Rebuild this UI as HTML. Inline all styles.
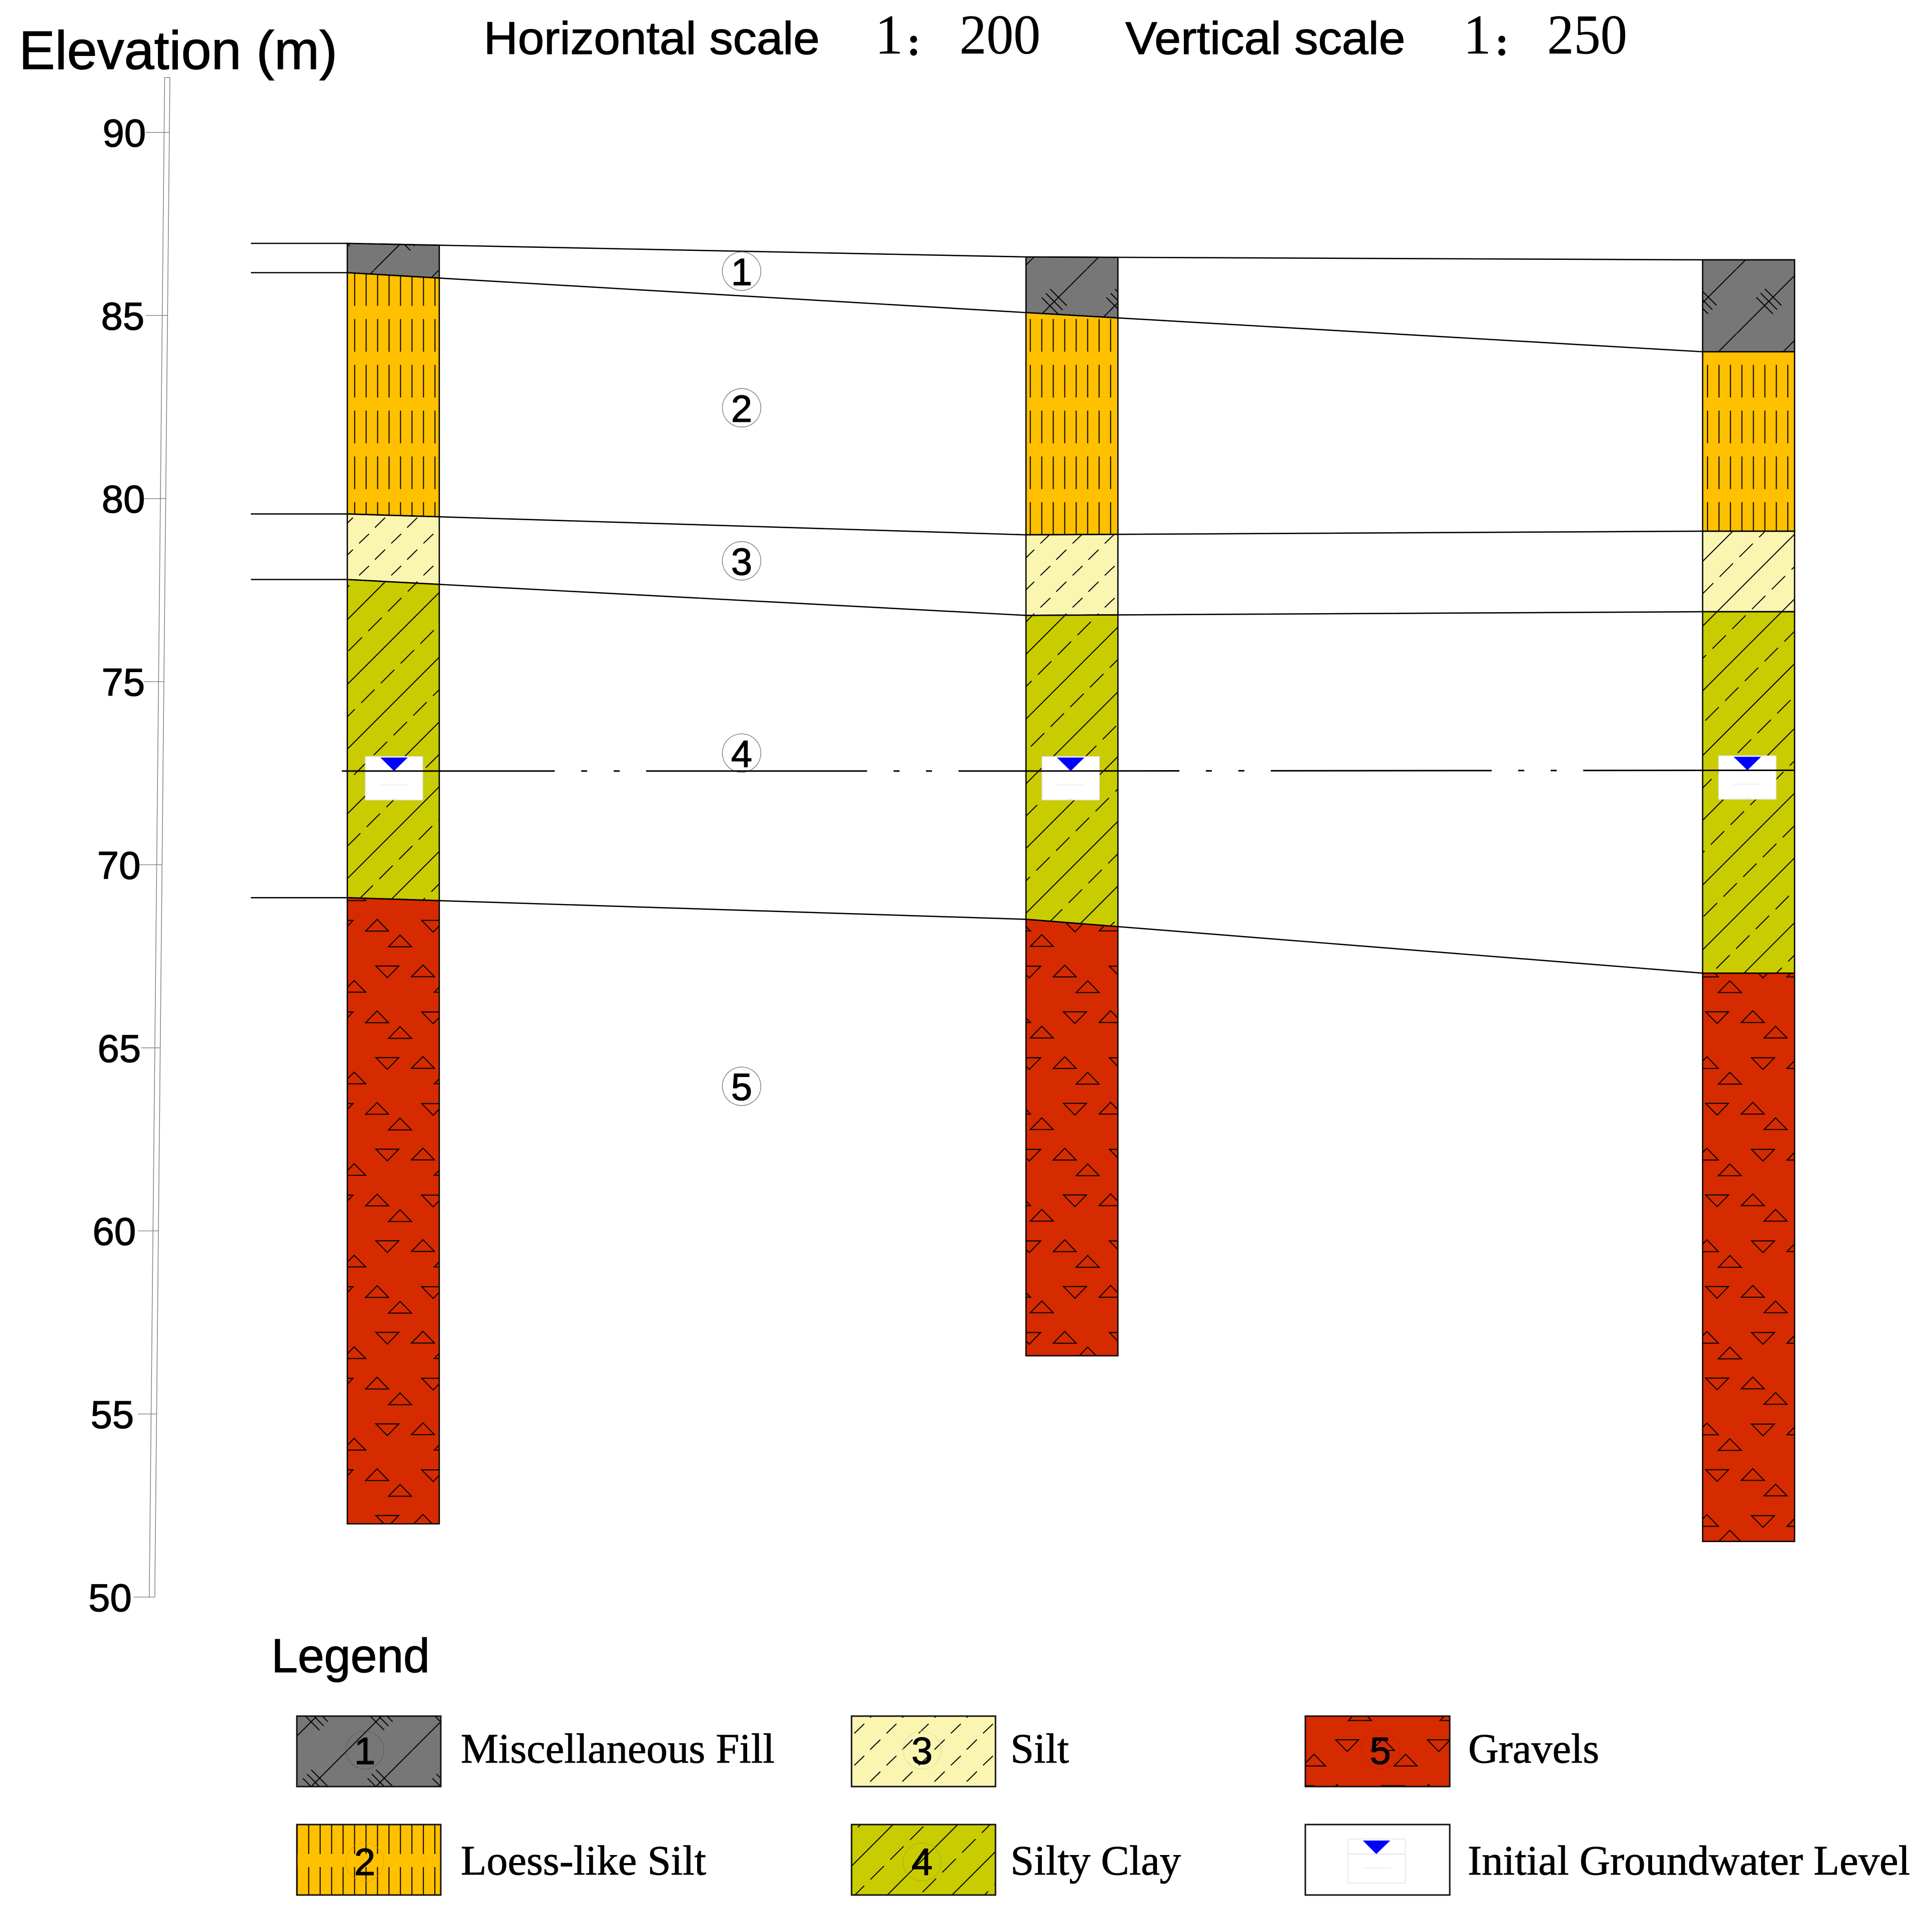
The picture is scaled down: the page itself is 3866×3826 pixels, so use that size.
<!DOCTYPE html>
<html lang="en">
<head>
<meta charset="utf-8">
<title>Borehole section</title>
<style>
html,body{margin:0;padding:0;background:#fff;}
svg{display:block;}
.sans{font-family:"Liberation Sans",sans-serif;fill:#000;stroke:#000;stroke-width:1.3px;}
.serif{font-family:"Liberation Serif","Noto Serif CJK SC",serif;fill:#000;stroke:#000;stroke-width:0.9px;}
.thin{stroke-width:0.4px;}
</style>
</head>
<body>
<svg id="chart" xmlns="http://www.w3.org/2000/svg" width="3866" height="3826" viewBox="0 0 3866 3826">
<defs id="defs"></defs>
<rect width="3866" height="3826" fill="#fff"/>

<text class="sans" x="38" y="138" font-size="109" textLength="637" lengthAdjust="spacingAndGlyphs">Elevation (m)</text>
<text class="sans" x="968" y="108" font-size="92" textLength="672" lengthAdjust="spacingAndGlyphs">Horizontal scale</text>
<text class="serif thin" x="1751" y="107" font-size="112">1</text>
<text class="serif" x="1828.5" y="110" font-size="80" font-weight="bold" text-anchor="middle">:</text>
<text class="serif thin" x="1920" y="107" font-size="112" textLength="162" lengthAdjust="spacingAndGlyphs">200</text>
<text class="sans" x="2252" y="108" font-size="92" textLength="560" lengthAdjust="spacingAndGlyphs">Vertical scale</text>
<text class="serif thin" x="2928" y="107" font-size="112">1</text>
<text class="serif" x="3005.5" y="110" font-size="80" font-weight="bold" text-anchor="middle">:</text>
<text class="serif thin" x="3096" y="107" font-size="112" textLength="160" lengthAdjust="spacingAndGlyphs">250</text>

<g id="plot"></g>

<g>
<text class="sans" x="543" y="3346" font-size="96" textLength="317" lengthAdjust="spacingAndGlyphs">Legend</text>

<g>
<rect x="594" y="3434" width="288" height="141" fill="url(#legFill)" stroke="#111" stroke-width="3"/>
<circle cx="730" cy="3502" r="38" fill="none" stroke="#555" stroke-width="1"/>
<text class="sans" x="730" y="3530" font-size="76" text-anchor="middle">1</text>
<text class="serif" x="922" y="3527" font-size="84" textLength="628" lengthAdjust="spacingAndGlyphs">Miscellaneous Fill</text>
</g>

<g>
<rect x="594" y="3651" width="288" height="141" fill="url(#legLoess)" stroke="#111" stroke-width="3"/>
<circle cx="730" cy="3726" r="38" fill="none" stroke="#e0a000" stroke-width="1"/>
<text class="sans" x="730" y="3752" font-size="76" text-anchor="middle">2</text>
<text class="serif" x="922" y="3751" font-size="84" textLength="491" lengthAdjust="spacingAndGlyphs">Loess-like Silt</text>
</g>

<g>
<rect x="1704" y="3434" width="288" height="141" fill="url(#legSilt)" stroke="#111" stroke-width="3"/>
<circle cx="1845" cy="3502" r="38" fill="none" stroke="#d8d4a0" stroke-width="1"/>
<text class="sans" x="1845" y="3530" font-size="76" text-anchor="middle">3</text>
<text class="serif" x="2022" y="3527" font-size="84" textLength="117" lengthAdjust="spacingAndGlyphs">Silt</text>
</g>

<g>
<rect x="1704" y="3651" width="288" height="141" fill="url(#legClay)" stroke="#111" stroke-width="3"/>
<circle cx="1845" cy="3726" r="38" fill="none" stroke="#a8aa00" stroke-width="1"/>
<text class="sans" x="1845" y="3752" font-size="76" text-anchor="middle">4</text>
<text class="serif" x="2022" y="3751" font-size="84" textLength="341" lengthAdjust="spacingAndGlyphs">Silty Clay</text>
</g>

<g>
<rect x="2612" y="3434" width="289" height="141" fill="url(#legGravel)" stroke="#111" stroke-width="3"/>
<circle cx="2762" cy="3502" r="38" fill="none" stroke="#b82400" stroke-width="1"/>
<text class="sans" x="2762" y="3530" font-size="76" text-anchor="middle">5</text>
<text class="serif" x="2938" y="3527" font-size="84" textLength="262" lengthAdjust="spacingAndGlyphs">Gravels</text>
</g>

<g>
<rect x="2612" y="3651" width="289" height="141" fill="#fff" stroke="#111" stroke-width="3"/>
<rect x="2697" y="3680" width="115" height="88" fill="#fff" stroke="#e4e4ec" stroke-width="1.5"/>
<line x1="2697" y1="3710" x2="2812" y2="3710" stroke="#dcdcec" stroke-width="1.5"/>
<line x1="2727" y1="3738" x2="2783" y2="3738" stroke="#e8e8f0" stroke-width="1.5"/>
<polygon points="2727,3683 2782,3683 2754,3710" fill="#0000ff"/>
<text class="serif" x="2937" y="3751" font-size="84" textLength="885" lengthAdjust="spacingAndGlyphs">Initial Groundwater Level</text>
</g>
</g>
</svg>

<script>
// ---- data ----
const tickValues = [90, 85, 80, 75, 70, 65, 60, 55, 50];
const boreholeDistances = [0, 27.16, 54.24];
const boreholeNames = ['borehole-1', 'borehole-2', 'borehole-3'];
const surfaceElevations = [86.97, 86.60, 86.52];
const fillBaseElevations = [86.17, 85.08, 84.01];
const loessBaseElevations = [79.58, 79.01, 79.11];
const siltBaseElevations = [77.79, 76.81, 76.91];
const clayBaseElevations = [69.10, 68.51, 67.04];
const gravelBaseElevations = [52.00, 56.59, 51.52];
const waterElevations = [72.56, 72.56, 72.58];
const layerKeys = ['fill', 'loess', 'silt', 'clay', 'gravel'];
const layerNumbers = ['1', '2', '3', '4', '5'];
const layerLabelElevations = [86.21, 82.48, 78.30, 73.05, 63.95];
const layerLabelDistance = 15.78;
const axisTopElevation = 91.5;
const axisBottomElevation = 50;

// ---- axis functions ----
const yScale = v => 265 + (90 - v) * 73.27;
const xScale = d => 695 + d * 50;
const axisRightX = y => 340 - (y - 155) * 0.00996;
const COLUMN_W = 184;
const EXT_LEFT = 502;
// tick stubs in the drawing start at stepped offsets from the slanted axis
function tickStubLeft(i) {
  return [291.7, 291.7, 287, 287, 278, 282.7, 276, 276, 267.3][i];
}
function tickLabelRight(i) {
  return [289, 286, 287.3, 287, 278.3, 279, 269, 265, 260.7][i];
}

const NS = 'http://www.w3.org/2000/svg';
const svg = document.getElementById('chart');
const defs = document.getElementById('defs');
const plot = document.getElementById('plot');
function mk(tag, attrs, parent) {
  const el = document.createElementNS(NS, tag);
  for (const k in attrs) el.setAttribute(k, attrs[k]);
  (parent || plot).appendChild(el);
  return el;
}

// ---- hatch patterns ----
const COLORS = {fill:'#777777', loess:'#FFC000', silt:'#FAF6B2', clay:'#C9CC00', gravel:'#D62B00'};
const HS = 2;
function pattern(id, ox, oy, rot, w, h, bg, draw) {
  const p = mk('pattern', {id:id, patternUnits:'userSpaceOnUse', x:0, y:0, width:w, height:h,
    patternTransform:'translate(' + ox + ',' + oy + ')' + (rot ? ' rotate(' + rot + ')' : '')}, defs);
  mk('rect', {x:0, y:0, width:w, height:h, fill:bg}, p);
  draw(p);
}
function seg(p, x1, y1, x2, y2) {
  mk('line', {x1:x1, y1:y1, x2:x2, y2:y2, stroke:'#000', 'stroke-width':HS}, p);
}
function fillPat(id, ox, oy) {
  const T = 129.6;
  pattern(id, ox, oy, 0, T, T, COLORS.fill, p => {
    seg(p, -5, T + 5, T + 5, -5);
    [-12, 0, 12].forEach(o => {
      const cx = T / 2 + o * 0.707, cy = T / 2 - o * 0.707, a = 23.5 * 0.707;
      seg(p, cx - a, cy - a, cx + a, cy + a);
    });
  });
}
function loessPat(id, ox, oy) {
  pattern(id, ox - 1.5, oy, 0, 22.95, 91.6, COLORS.loess, p => seg(p, 1.5, 0, 1.5, 65.5));
}
function dashPat(id, ox, oy) {
  pattern(id, ox, oy, 0, 64.4, 64, COLORS.silt, p => {
    seg(p, 0.5, 19.5, 20.4, 0.5);
    seg(p, 32.2, 52, 52.6, 32);
  });
}
function clayPat(id, ox, oy, bg) {
  pattern(id, ox, oy, -45, 55.9, 91.6, bg, p => {
    seg(p, 0, 0, 55.9, 0);
    seg(p, 0, 91.6, 55.9, 91.6);
    seg(p, 0, 45.8, 38, 45.8);
  });
}
function gravelPat(id, ox, oy) {
  const T = 183.25, hw = 23, ht = 23.5;
  const up = (p, cx, base) => mk('polygon', {points:(cx-hw)+','+base+' '+(cx+hw)+','+base+' '+cx+','+(base-ht), fill:'none', stroke:'#000', 'stroke-width':HS}, p);
  const dn = (p, cx, top) => mk('polygon', {points:(cx-hw)+','+top+' '+(cx+hw)+','+top+' '+cx+','+(top+ht), fill:'none', stroke:'#000', 'stroke-width':HS}, p);
  pattern(id, ox, oy, 0, T, T, COLORS.gravel, p => {
    dn(p, 81, 9.3);
    up(p, 152.4, 30.7);
    up(p, 14.7, 61.7);
    up(p, 14.7 + T, 61.7);
    dn(p, 172.8, 101.3);
    dn(p, 172.8 - T, 101.3);
    up(p, 60.6, 122.7);
    up(p, 106.5, 154);
  });
}
// per-borehole hatches
fillPat('fill0', 748.2, 411.2);
fillPat('fill1', 2044.7, 538.7);
fillPat('fill2', 3474.7, 538.2);
loessPat('loess0', 709.7, 638.4);
loessPat('loess1', 2061.7, 638.4);
loessPat('loess2', 3416.8, 638.4);
dashPat('silt0', 718, 1131.8);
dashPat('silt1', 2081.3, 1068);
clayPat('silt2', 3391, 1657.6, COLORS.silt);
clayPat('clay0', 704.6, 1230.4, COLORS.clay);
clayPat('clay1', 2041.3, 1709.6, COLORS.clay);
clayPat('clay2', 3391, 1657.6, COLORS.clay);
gravelPat('gravel0', 694, 1923.75);
gravelPat('gravel1', 2070, 2015.35);
gravelPat('gravel2', 3355, 2015.35);
// legend hatches
fillPat('legFill', 566.2, 3372.2);
loessPat('legLoess', 617.7, 3644.4);
dashPat('legSilt', 1709, 3513);
clayPat('legClay', 1709.5, 3728.5, COLORS.clay);
gravelPat('legGravel', 2614.8, 3472.1);

// ---- y axis ----
const axisG = mk('g', {});


const axTop = yScale(axisTopElevation), axBot = yScale(axisBottomElevation);
const axisLine = mk('polyline', {
  points: [[axisRightX(axBot) - 11, axBot], [axisRightX(axTop) - 10.5, axTop], [axisRightX(axTop), axTop], [axisRightX(axBot), axBot]].map(p => p.join(',')).join(' '),
  fill:'none', stroke:'#8a8a8a', 'stroke-width':1.6}, axisG);


tickValues.forEach((v, i) => {
  const y = yScale(v), r = axisRightX(y), l = tickStubLeft(i);
  const t = mk('line', {x1:l, y1:y, x2:r, y2:y, stroke:'#808080', 'stroke-width':1.4}, axisG);
  
  
  const lb = mk('text', {x:tickLabelRight(i) + 3, y:y + 28, 'font-size':78, 'text-anchor':'end', 'class':'sans'}, axisG);
  lb.textContent = v;
  
  
});

// ---- boreholes ----
const boundaries = [surfaceElevations, fillBaseElevations, loessBaseElevations, siltBaseElevations, clayBaseElevations, gravelBaseElevations];
function rightY(b, i) {
  // boundary height on the right wall of borehole i, following the line to the next borehole
  const yA = yScale(b[i]);
  if (i === boreholeDistances.length - 1) return yA;
  const xA = xScale(boreholeDistances[i]), xB = xScale(boreholeDistances[i + 1]);
  return yA + (yScale(b[i + 1]) - yA) * COLUMN_W / (xB - xA);
}
boreholeDistances.forEach((d, i) => {
  const x = xScale(d);
  const g = mk('g', {});
  
  
  layerKeys.forEach((key, l) => {
    const top = boundaries[l], bot = boundaries[l + 1];
    const isBottom = l === layerKeys.length - 1;
    const yTL = yScale(top[i]), yTR = rightY(top, i);
    const yBL = yScale(bot[i]), yBR = isBottom ? yBL : rightY(bot, i);
    const poly = mk('polygon', {
      points: x + ',' + yTL + ' ' + (x + COLUMN_W) + ',' + yTR + ' ' + (x + COLUMN_W) + ',' + yBR + ' ' + x + ',' + yBL,
      fill:'url(#' + key + i + ')', stroke:'#000', 'stroke-width':2.6}, g);
    
    
  });
});

// ---- strata boundary lines ----
boundaries.slice(0, 5).forEach((b, idx) => {
  const pts = [[EXT_LEFT, yScale(b[0])]];
  boreholeDistances.forEach((d, i) => pts.push([xScale(d), yScale(b[i])]));
  pts.push([xScale(boreholeDistances[2]) + COLUMN_W, yScale(b[2])]);
  const ln = mk('polyline', {points: pts.map(p => p.join(',')).join(' '), fill:'none', stroke:'#000', 'stroke-width':2.6});
  
  
});

// ---- groundwater symbols ----
boreholeDistances.forEach((d, i) => {
  const bx = xScale(d) + (i === 0 ? 36 : 32), wy = yScale(waterElevations[i]);
  const s = mk('g', {});
  
  
  mk('rect', {x:bx, y:wy - 29, width:115, height:87, fill:'#fff', stroke:'#e0e0e0', 'stroke-width':1.5}, s);
  mk('line', {x1:bx + 30, y1:wy + 28, x2:bx + 85, y2:wy + 28, stroke:'#e6e6f2', 'stroke-width':1.5}, s);
  mk('line', {x1:bx + 52, y1:wy + 56, x2:bx + 63, y2:wy + 56, stroke:'#e6e6f2', 'stroke-width':1.5}, s);
  mk('polygon', {points:(bx + 30) + ',' + (wy - 27) + ' ' + (bx + 85) + ',' + (wy - 27) + ' ' + (bx + 57.5) + ',' + wy, fill:'#0000ff'}, s);
});

// ---- layer number labels ----
layerNumbers.forEach((n, i) => {
  const cx = xScale(layerLabelDistance), cy = yScale(layerLabelElevations[i]);
  const c = mk('circle', {cx:cx, cy:cy, r:38.5, fill:'#fff', stroke:'#777', 'stroke-width':1.4});
  
  
  const t = mk('text', {x:cx, y:cy + 28, 'font-size':76, 'text-anchor':'middle', 'class':'sans'});
  t.textContent = n;
  
  
});

// ---- groundwater line (drawn over the circles, dash-dot) ----
const wl = mk('polyline', {
  points: [[684, yScale(waterElevations[0])], [xScale(boreholeDistances[1]), yScale(waterElevations[1])], [xScale(boreholeDistances[2]) + COLUMN_W, yScale(waterElevations[2])]].map(p => p.join(',')).join(' '),
  fill:'none', stroke:'#000', 'stroke-width':3, 'stroke-dasharray':'442 53 12 53 12 53', 'stroke-dashoffset':16});


</script>
</body>
</html>
